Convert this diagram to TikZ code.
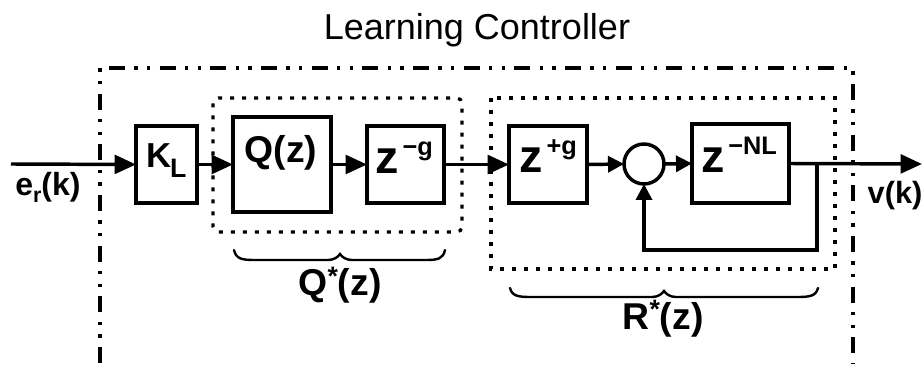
\documentclass[tikz,border=0pt]{standalone}
\usepackage{fontspec}
\setmainfont{Liberation Sans}
\usetikzlibrary{arrows.meta}
\tikzset{
  px/.style={x=0.75pt,y=-0.75pt},
  blk/.style={draw,line width=2.6pt,inner sep=0pt,outer sep=0pt},
  sig/.style={line width=2.6pt,-{Triangle[length=16pt,width=14pt]}},
  sigs/.style={line width=2.6pt,-{Triangle[length=12pt,width=12pt]}},
  outerbox/.style={line width=2.5pt,dash pattern=on 12pt off 7pt on 2.5pt off 7pt on 2.5pt off 7pt},
  dotbox/.style={line width=2.4pt,dash pattern=on 3pt off 6pt},
  bracestyle/.style={line width=1.8pt,line cap=round},
  lbl/.style={inner sep=0pt,anchor=base,font=\bfseries},
}
\newcommand{\zexp}[1]{{\fontsize{35}{35}\selectfont z}\hspace{3pt}\raisebox{14pt}{\fontsize{19}{19}\selectfont #1}}
\begin{document}
\begin{tikzpicture}[px]
\useasboundingbox (0,0) rectangle (924,370);
% title
\node[inner sep=0pt,anchor=base,font=\fontsize{27}{27}\selectfont] (title) at (477,40) {Learning Controller};
% outer dash-dot box
\draw[outerbox] (100,363) -- (100,68) -- (853,68) -- (853,363);
% dotted groups
\draw[dotbox,rounded corners=4pt] (213,98) rectangle (462,232);
\draw[dotbox] (491,98) rectangle (835,269);
% blocks
\node[blk,minimum width=61*0.75pt,minimum height=77*0.75pt,font=\bfseries\fontsize{26}{26}\selectfont] (kl) at (166.5,164.5) {\raisebox{3pt}[\height][\depth]{K\hspace{-1pt}\raisebox{-7pt}{\fontsize{20}{20}\selectfont L}}};
\node[blk,minimum width=98*0.75pt,minimum height=95*0.75pt] (q) at (282,164.5) {};
\node[blk,minimum width=77*0.75pt,minimum height=77*0.75pt] (zg) at (405.5,164.5) {};
\node[blk,minimum width=78*0.75pt,minimum height=77*0.75pt] (zpg) at (548,164.5) {};
\node[blk,circle,minimum size=40*0.75pt] (sum) at (644,164) {};
\node[blk,minimum width=97*0.75pt,minimum height=79*0.75pt] (znl) at (740.5,163.5) {};
% block texts
\node[lbl,font=\bfseries\fontsize{28}{28}\selectfont] (qtext) at (281,163) {Q(z)};
\node[lbl,font=\bfseries] (zgtext) at (404,174) {\zexp{−g}};
\node[lbl,font=\bfseries] (zpgtext) at (548,173) {\zexp{+g}};
\node[lbl,font=\bfseries] (znltext) at (739,173) {\zexp{−NL}};
% signal labels
\node[lbl,font=\bfseries\fontsize{24}{24}\selectfont] (ein) at (48,196) {e\raisebox{-5pt}{\fontsize{16}{16}\selectfont r}(k)};
\node[lbl,font=\bfseries\fontsize{23}{23}\selectfont] (vout) at (895,204) {v(k)};
% connectors
\coordinate (in) at (11,164);
\coordinate (out) at (922,164);
\coordinate (br) at (817,164);
\coordinate (fb1) at (817,250);
\coordinate (fb2) at (644,250);
\draw[sig] (in) -- (kl.west);
\draw[sig] (kl.east) -- (q.west);
\draw[sig] (q.east) -- (zg.west);
\draw[sig] (zg.east) -- (zpg.west);
\draw[sigs] (zpg.east) -- (sum.west);
\draw[sigs] (sum.east) -- (znl.west);
\draw[sig] (znl.east) -- (out);
\draw[sigs] (br) -- (fb1) -- (fb2) -- (sum.south);
% braces
\draw[bracestyle] (234,250) .. controls (236,259) and (242,260) .. (255,260) -- (328,260) .. controls (334,260) and (338,257) .. (340,254) .. controls (342,257) and (346,260) .. (352,260) -- (425,260) .. controls (438,260) and (443,259) .. (445,250);
\draw[bracestyle] (510,288) .. controls (512,296) and (518,297) .. (531,297) -- (652,297) .. controls (658,297) and (662,294) .. (664,291) .. controls (666,294) and (670,297) .. (676,297) -- (797,297) .. controls (810,297) and (816,296) .. (818,288);
\node[lbl,font=\bfseries\fontsize{28}{28}\selectfont] (qstar) at (340,296) {Q\raisebox{8pt}{\fontsize{20}{20}\selectfont *}(z)};
\node[lbl,font=\bfseries\fontsize{28}{28}\selectfont] (rstar) at (663,329) {R\raisebox{8pt}{\fontsize{20}{20}\selectfont *}(z)};
\end{tikzpicture}
\end{document}
